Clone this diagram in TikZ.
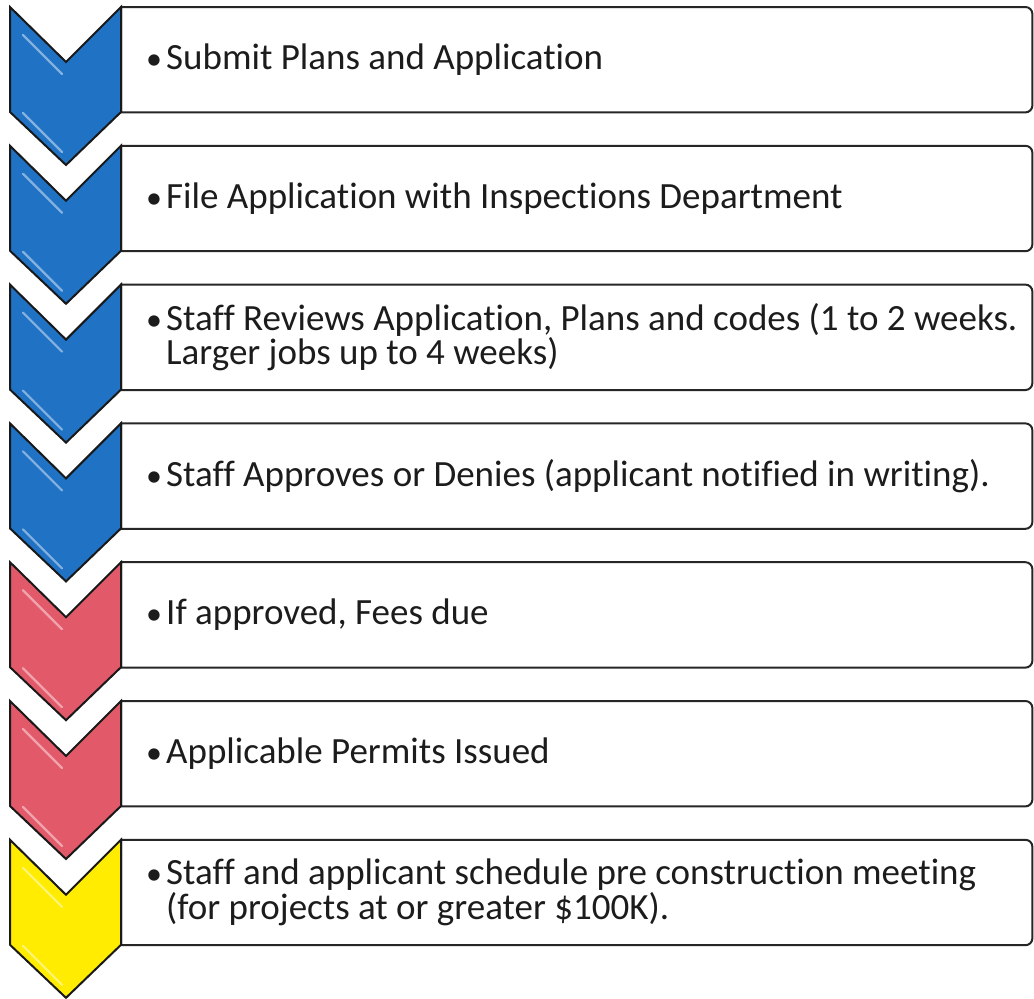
\documentclass[tikz,border=0pt]{standalone}
\usepackage{fontspec}
\setmainfont{Carlito}[Ligatures=NoCommon]
\definecolor{chblue}{RGB}{31,114,196}
\definecolor{chred}{RGB}{226,90,106}
\definecolor{chyellow}{RGB}{255,236,0}
\definecolor{txt}{RGB}{28,28,28}
\newcommand{\bul}{\makebox[20pt][l]{\fontsize{32}{33}\selectfont •}}
\newcommand{\bulsp}{\hspace*{20pt}}
\begin{document}
\begin{tikzpicture}[x=1pt,y=-1pt,
  boxarea/.style={draw=none,minimum width=911pt,minimum height=105pt,inner sep=0pt,anchor=north west},
  boxline/.style={draw=black!85,line width=2pt},
  steptext/.style={anchor=west,align=left,inner sep=0pt,text=txt,font=\fontsize{37}{33}\selectfont},
  chev/.style={draw=black!90,line width=2pt,line join=miter},
  shine/.style={white,opacity=0.45,line width=2.2pt,line cap=round}]
\useasboundingbox (0,0) rectangle (1034,999);
\fill[white] (0,0) rectangle (1034,999);

\foreach \i/\col in {0/chblue,1/chblue,2/chblue,3/chblue,4/chred,5/chred,6/chyellow}{
  \pgfmathsetmacro{\T}{7+138.8*\i}
  \node[boxarea] (b\i) at (121,\T) {};
  \draw[boxline] (b\i.south west) -- (b\i.north west) [rounded corners=7pt] -- (b\i.north east) -- (b\i.south east) [sharp corners] -- cycle;
  \coordinate (c\i) at (66,\T);
  \draw[chev,fill=\col] (10,\T) -- (66,\T+55) -- (121,\T) -- (121,\T+105) -- (66,\T+158) -- (10,\T+105) -- cycle;
  \draw[shine] (23,\T+28) -- (62,\T+67);
  \draw[shine] (23,\T+106) -- (62,\T+145);
}

\node[steptext] (t0) at (146,7+52.5) {\bul{}Submit Plans and Application};
\node[steptext] (t1) at (146,7+138.8+52.5) {\bul{}File Application with Inspections Department};
\node[steptext] (t2) at (146,7+2*138.8+52.5) {\bul{}Staff Reviews Application, Plans and codes (1 to 2 weeks.\\\bulsp{}Larger jobs up to 4 weeks)};
\node[steptext] (t3) at (146,7+3*138.8+52.5) {\bul{}Staff Approves or Denies (applicant notified in writing).};
\node[steptext] (t4) at (146,7+4*138.8+52.5) {\bul{}If approved, Fees due};
\node[steptext] (t5) at (146,7+5*138.8+52.5) {\bul{}Applicable Permits Issued};
\node[steptext] (t6) at (146,7+6*138.8+52.5) {\bul{}Staff and applicant schedule pre construction meeting\\\bulsp{}(for projects at or greater \$100K).};
\end{tikzpicture}
\end{document}
